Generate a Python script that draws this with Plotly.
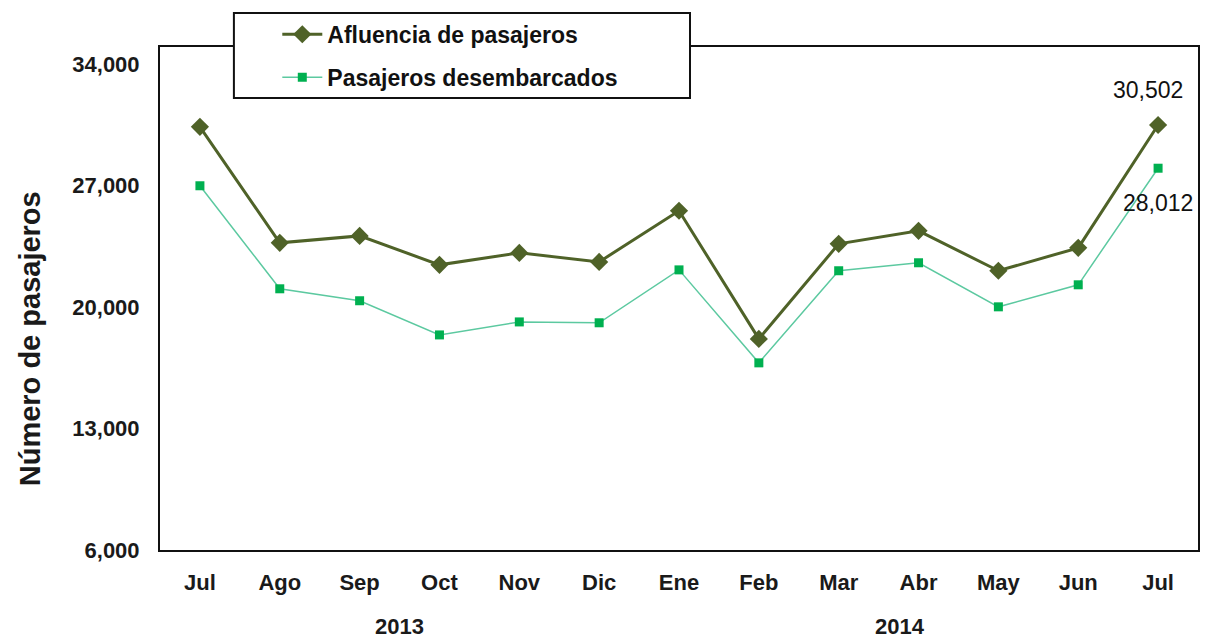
import plotly.graph_objects as go

months = ["Jul", "Ago", "Sep", "Oct", "Nov", "Dic", "Ene", "Feb", "Mar", "Abr", "May", "Jun", "Jul"]
afluencia = [30400, 23710, 24110, 22440, 23130, 22610, 25560, 18170, 23650, 24400, 22100, 23420, 30502]
desembarcados = [27000, 21060, 20370, 18400, 19150, 19100, 22150, 16790, 22100, 22560, 20020, 21290, 28012]
y_ticks = [6000, 13000, 20000, 27000, 34000]
y_tick_labels = ["6,000", "13,000", "20,000", "27,000", "34,000"]
years = ["2013", "2014"]
year_pos = [2.5, 8.77]

x = list(range(len(months)))
FONT = "Liberation Sans, Arial, sans-serif"
OLIVE = "#4f6228"
GREEN = "#00b050"
GREEN_LINE = "#5cc9a0"

fig = go.Figure()
fig.add_trace(go.Scatter(
    x=x, y=afluencia, mode="lines+markers", name="Afluencia de pasajeros",
    legendgroup="a",
    line=dict(color=OLIVE, width=3),
    marker=dict(symbol="diamond", size=14, color=OLIVE),
))
fig.add_trace(go.Scatter(
    x=x, y=desembarcados, mode="lines+markers", name="Pasajeros desembarcados",
    legendgroup="b",
    line=dict(color=GREEN_LINE, width=1.5),
    marker=dict(symbol="square", size=9, color=GREEN),
))

fig.update_layout(
    width=1194, height=635,
    margin=dict(l=152, r=2, t=39, b=93),
    paper_bgcolor="white", plot_bgcolor="white",
    font=dict(family=FONT, color="#1a1a1a"),
    showlegend=True,
    legend=dict(
        x=0.113, xanchor="left", y=1.068, yanchor="top",
        bgcolor="rgba(0,0,0,0)", borderwidth=0,
        font=dict(family=FONT, size=23, color="#111", weight="bold"),
        traceorder="grouped", tracegroupgap=10,
        itemwidth=40,
    ),
    xaxis=dict(
        range=[-0.5, 12.5], tickmode="array", tickvals=x, ticktext=months,
        showgrid=False, zeroline=False, showline=True, mirror=True,
        linecolor="#111", linewidth=2, ticks="",
        tickfont=dict(family=FONT, size=22, color="#1a1a1a", weight="bold"),
        ticklabelstandoff=12,
    ),
    yaxis=dict(
        range=[6000, 35000], tickmode="array", tickvals=y_ticks, ticktext=y_tick_labels,
        showgrid=False, zeroline=False, showline=True, mirror=True,
        linecolor="#111", linewidth=2, ticks="",
        tickfont=dict(family=FONT, size=22, color="#1a1a1a", weight="bold"),
        ticklabelstandoff=14,
    ),
    shapes=[dict(
        type="rect", xref="paper", yref="paper",
        x0=0.0712, x1=0.5106, y0=0.8986, y1=1.0676,
        fillcolor="white", line=dict(color="#111", width=2), layer="above",
    )],
)

annotations = []
for yr, pos in zip(years, year_pos):
    annotations.append(dict(
        x=pos, y=-0.152, xref="x", yref="paper", text=yr, showarrow=False,
        xanchor="center", yanchor="middle",
        font=dict(family=FONT, size=22, color="#1a1a1a", weight="bold"),
    ))
annotations.append(dict(
    x=-0.125, y=0.4195, xref="paper", yref="paper", text="Número de pasajeros",
    showarrow=False, textangle=-90, xanchor="center", yanchor="middle",
    font=dict(family=FONT, size=29, color="#1a1a1a", weight="bold"),
))
annotations.append(dict(
    x=x[-1], y=afluencia[-1], xref="x", yref="y", text=f"{afluencia[-1]:,}",
    showarrow=False, yshift=35, xshift=-10,
    font=dict(family=FONT, size=23, color="#111"),
))
annotations.append(dict(
    x=x[-1], y=desembarcados[-1], xref="x", yref="y", text=f"{desembarcados[-1]:,}",
    showarrow=False, yshift=-35, xshift=0,
    font=dict(family=FONT, size=23, color="#111"),
))
fig.update_layout(annotations=annotations)

fig.write_html("out.html")
